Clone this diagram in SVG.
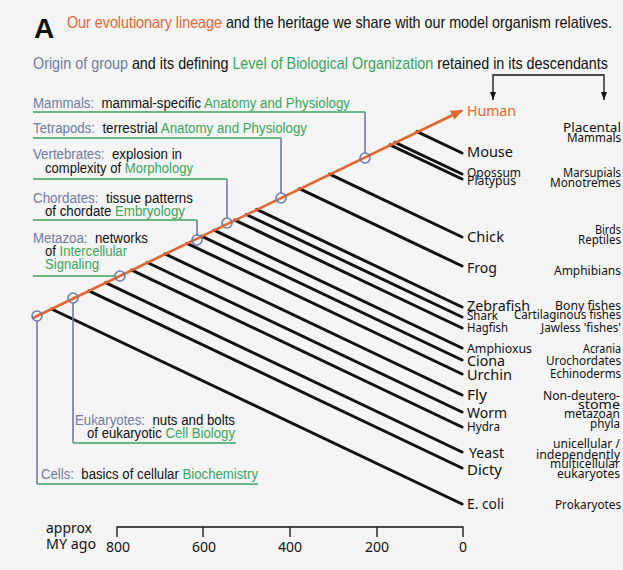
<svg xmlns="http://www.w3.org/2000/svg" width="623" height="570" viewBox="0 0 623 570">
<defs>
<style>
.bg{fill:#f4f4f4}
.hd{font-family:"Liberation Sans",Arial,sans-serif;font-size:16.5px;fill:#111}
.lb{font-family:"Liberation Sans",Arial,sans-serif;font-size:15.5px;fill:#111}
.sp{font-family:"Noto Sans","Open Sans",sans-serif;font-size:15px;fill:#111}
.sm{font-size:12px}
.md{font-size:13px}
.rc{font-family:"Noto Sans","Open Sans",sans-serif;font-size:12px;fill:#111;text-anchor:end}
.ax{font-family:"Noto Sans","Open Sans",sans-serif;font-size:14px;fill:#111}
.axn{text-anchor:middle}
.grp{fill:#6e7ba5}
.lev{fill:#3aa55e}
.org{fill:#e5652e}
.br{stroke:#111;stroke-width:3;stroke-linecap:round}
.gv{stroke:#6e7ba5;stroke-width:1.6;fill:none}
.gh{stroke:#3aa55e;stroke-width:1.6;fill:none}
.cir{stroke:#6e7ba5;stroke-width:1.6;fill:none}
.thin{stroke:#111;stroke-width:1.3;fill:none}
</style>
<marker id="oa" viewBox="0 0 12 10" refX="11" refY="5" markerWidth="12" markerHeight="10" markerUnits="userSpaceOnUse" orient="auto">
<path d="M0,0 L12,5 L0,10 z" fill="#e5652e"/>
</marker>
<marker id="ba" viewBox="0 0 6 8" refX="3" refY="8" markerWidth="6" markerHeight="8" markerUnits="userSpaceOnUse" orient="0">
<path d="M0,0 L6,0 L3,8 z" fill="#111"/>
</marker>
</defs>
<rect class="bg" x="0" y="0" width="623" height="570"/>

<g id="header">
<text x="34" y="38" font-family="Liberation Sans,Arial,sans-serif" font-weight="bold" font-size="28" fill="#111">A</text>
<text class="hd" x="67" y="28" textLength="545" lengthAdjust="spacingAndGlyphs"><tspan class="org">Our evolutionary lineage</tspan> and the heritage we share with our model organism relatives.</text>
<text class="hd" x="33" y="69" textLength="575" lengthAdjust="spacingAndGlyphs"><tspan class="grp">Origin of group</tspan> and its defining <tspan class="lev">Level of Biological Organization</tspan> retained in its descendants</text>
<path class="thin" d="M493,100 V75 H604 V100" marker-start="url(#ba)" marker-end="url(#ba)"/>
</g>

<g id="branches">
<line class="br" x1="417" y1="131.6" x2="462" y2="153"/>
<line class="br" x1="395" y1="142.3" x2="462" y2="174"/>
<line class="br" x1="390" y1="144.8" x2="462" y2="179"/>
<line class="br" x1="329.6" y1="174.1" x2="462" y2="237"/>
<line class="br" x1="299.4" y1="188.7" x2="462" y2="266"/>
<line class="br" x1="256.7" y1="209.4" x2="462" y2="307"/>
<line class="br" x1="246.3" y1="214.5" x2="462" y2="317"/>
<line class="br" x1="234.8" y1="220.1" x2="462" y2="328"/>
<line class="br" x1="214" y1="230.2" x2="462" y2="348"/>
<line class="br" x1="201.5" y1="236.2" x2="462" y2="360"/>
<line class="br" x1="186.9" y1="243.3" x2="462" y2="374"/>
<line class="br" x1="165" y1="253.9" x2="462" y2="395"/>
<line class="br" x1="147.3" y1="262.5" x2="462" y2="412"/>
<line class="br" x1="131.7" y1="270.1" x2="462" y2="427"/>
<line class="br" x1="105.6" y1="282.7" x2="462" y2="452"/>
<line class="br" x1="88.9" y1="290.8" x2="462" y2="468"/>
<line class="br" x1="51.5" y1="309" x2="462" y2="504"/>
</g>

<g id="lineage">
<line x1="33" y1="318" x2="462" y2="110.5" stroke="#e5652e" stroke-width="2.6" marker-end="url(#oa)"/>
</g>

<g id="connectors">
<path class="gh" d="M33,112 H365"/><path class="gv" d="M365,112 V153"/>
<path class="gh" d="M33,138 H281"/><path class="gv" d="M281,138 V193"/>
<path class="gh" d="M33,179 H227"/><path class="gv" d="M227,179 V218"/>
<path class="gh" d="M33,220 H197"/><path class="gv" d="M197,220 V235"/>
<path class="gh" d="M33,276 H115"/>
<path class="gv" d="M73,303 V443"/><path class="gh" d="M73,443 H236"/>
<path class="gv" d="M37,321 V484"/><path class="gh" d="M37,484 H258"/>
<circle class="cir" cx="365" cy="158" r="5"/>
<circle class="cir" cx="281" cy="198" r="5"/>
<circle class="cir" cx="227" cy="223" r="5"/>
<circle class="cir" cx="197" cy="240" r="5"/>
<circle class="cir" cx="120" cy="276" r="5"/>
<circle class="cir" cx="73" cy="298" r="5"/>
<circle class="cir" cx="37" cy="316" r="5"/>
</g>

<g id="mammals"><text class="lb" x="33" y="108" textLength="317" lengthAdjust="spacingAndGlyphs" xml:space="preserve"><tspan class="grp">Mammals:</tspan>  mammal-specific <tspan class="lev">Anatomy and Physiology</tspan></text></g>
<g id="tetrapods"><text class="lb" x="33" y="133" textLength="274" lengthAdjust="spacingAndGlyphs" xml:space="preserve"><tspan class="grp">Tetrapods:</tspan>  terrestrial <tspan class="lev">Anatomy and Physiology</tspan></text></g>
<g id="vertebrates">
<text class="lb" x="33" y="159" textLength="149" lengthAdjust="spacingAndGlyphs" xml:space="preserve"><tspan class="grp">Vertebrates:</tspan>  explosion in</text>
<text class="lb" x="45" y="173" textLength="148" lengthAdjust="spacingAndGlyphs">complexity of <tspan class="lev">Morphology</tspan></text>
</g>
<g id="chordates">
<text class="lb" x="33" y="203" textLength="160" lengthAdjust="spacingAndGlyphs" xml:space="preserve"><tspan class="grp">Chordates:</tspan>  tissue patterns</text>
<text class="lb" x="45" y="216" textLength="140" lengthAdjust="spacingAndGlyphs">of chordate <tspan class="lev">Embryology</tspan></text>
</g>
<g id="metazoa">
<text class="lb" x="33" y="243" textLength="115" lengthAdjust="spacingAndGlyphs" xml:space="preserve"><tspan class="grp">Metazoa:</tspan>  networks</text>
<text class="lb" x="45" y="256" textLength="82" lengthAdjust="spacingAndGlyphs">of <tspan class="lev">Intercellular</tspan></text>
<text class="lb" x="45" y="269" textLength="54" lengthAdjust="spacingAndGlyphs"><tspan class="lev">Signaling</tspan></text>
</g>
<g id="eukaryotes">
<text class="lb" x="75" y="425" textLength="160" lengthAdjust="spacingAndGlyphs" xml:space="preserve"><tspan class="grp">Eukaryotes:</tspan>  nuts and bolts</text>
<text class="lb" x="87" y="438" textLength="148" lengthAdjust="spacingAndGlyphs">of eukaryotic <tspan class="lev">Cell Biology</tspan></text>
</g>
<g id="cells"><text class="lb" x="41" y="479" textLength="217" lengthAdjust="spacingAndGlyphs" xml:space="preserve"><tspan class="grp">Cells:</tspan>  basics of cellular <tspan class="lev">Biochemistry</tspan></text></g>

<g id="species">
<text class="sp" x="467" y="116" textLength="49" lengthAdjust="spacingAndGlyphs"><tspan class="org">Human</tspan></text>
<text class="sp" x="467" y="157" textLength="46" lengthAdjust="spacingAndGlyphs">Mouse</text>
<text class="sp sm" x="467" y="177" textLength="54" lengthAdjust="spacingAndGlyphs">Opossum</text>
<text class="sp sm" x="467" y="185" textLength="49" lengthAdjust="spacingAndGlyphs">Platypus</text>
<text class="sp" x="467" y="242" textLength="37" lengthAdjust="spacingAndGlyphs">Chick</text>
<text class="sp" x="467" y="273" textLength="30" lengthAdjust="spacingAndGlyphs">Frog</text>
<text class="sp" x="467" y="311" textLength="63" lengthAdjust="spacingAndGlyphs">Zebrafish</text>
<text class="sp sm" x="467" y="320" textLength="31" lengthAdjust="spacingAndGlyphs">Shark</text>
<text class="sp sm" x="467" y="332" textLength="41" lengthAdjust="spacingAndGlyphs">Hagfish</text>
<text class="sp md" x="467" y="353" textLength="65" lengthAdjust="spacingAndGlyphs">Amphioxus</text>
<text class="sp" x="467" y="366" textLength="38" lengthAdjust="spacingAndGlyphs">Ciona</text>
<text class="sp" x="467" y="380" textLength="45" lengthAdjust="spacingAndGlyphs">Urchin</text>
<text class="sp" x="467" y="400" textLength="20" lengthAdjust="spacingAndGlyphs">Fly</text>
<text class="sp" x="467" y="418" textLength="40" lengthAdjust="spacingAndGlyphs">Worm</text>
<text class="sp md" x="467" y="431" textLength="33" lengthAdjust="spacingAndGlyphs">Hydra</text>
<text class="sp" x="469" y="458" textLength="35" lengthAdjust="spacingAndGlyphs">Yeast</text>
<text class="sp" x="467" y="475" textLength="35" lengthAdjust="spacingAndGlyphs">Dicty</text>
<text class="sp" x="467" y="509" font-size="14" textLength="37" lengthAdjust="spacingAndGlyphs">E. coli</text>
</g>

<g id="groups">
<text class="rc" x="621" y="132" textLength="58" lengthAdjust="spacingAndGlyphs">Placental</text>
<text class="rc" x="621" y="142" textLength="54" lengthAdjust="spacingAndGlyphs">Mammals</text>
<text class="rc" x="621" y="177" textLength="58" lengthAdjust="spacingAndGlyphs">Marsupials</text>
<text class="rc" x="621" y="187" textLength="71" lengthAdjust="spacingAndGlyphs">Monotremes</text>
<text class="rc" x="621" y="234" textLength="26" lengthAdjust="spacingAndGlyphs">Birds</text>
<text class="rc" x="621" y="244" textLength="43" lengthAdjust="spacingAndGlyphs">Reptiles</text>
<text class="rc" x="621" y="275" textLength="67" lengthAdjust="spacingAndGlyphs">Amphibians</text>
<text class="rc" x="621" y="310" textLength="66" lengthAdjust="spacingAndGlyphs">Bony fishes</text>
<text class="rc" x="621" y="319" textLength="107" lengthAdjust="spacingAndGlyphs">Cartilaginous fishes</text>
<text class="rc" x="621" y="332" textLength="80" lengthAdjust="spacingAndGlyphs">Jawless 'fishes'</text>
<text class="rc" x="621" y="353" textLength="38" lengthAdjust="spacingAndGlyphs">Acrania</text>
<text class="rc" x="621" y="365" textLength="75" lengthAdjust="spacingAndGlyphs">Urochordates</text>
<text class="rc" x="621" y="378" textLength="71" lengthAdjust="spacingAndGlyphs">Echinoderms</text>
<text class="rc" x="620" y="400" textLength="77" lengthAdjust="spacingAndGlyphs">Non-deutero-</text>
<text class="rc" x="620" y="409" textLength="42" lengthAdjust="spacingAndGlyphs">stome</text>
<text class="rc" x="620" y="418" textLength="56" lengthAdjust="spacingAndGlyphs">metazoan</text>
<text class="rc" x="620" y="428" textLength="30" lengthAdjust="spacingAndGlyphs">phyla</text>
<text class="rc" x="620" y="448" textLength="67" lengthAdjust="spacingAndGlyphs">unicellular /</text>
<text class="rc" x="620" y="459" textLength="84" lengthAdjust="spacingAndGlyphs">independently</text>
<text class="rc" x="620" y="468" textLength="70" lengthAdjust="spacingAndGlyphs">multicellular</text>
<text class="rc" x="620" y="478" textLength="63" lengthAdjust="spacingAndGlyphs">eukaryotes</text>
<text class="rc" x="621" y="509" textLength="66" lengthAdjust="spacingAndGlyphs">Prokaryotes</text>
</g>

<g id="axis">
<path class="thin" d="M117,537 V527 H463 V537 M203,527 V537 M290,527 V537 M377,527 V537"/>
<text class="ax" x="46" y="533" textLength="46" lengthAdjust="spacingAndGlyphs">approx</text>
<text class="ax" x="46" y="549" textLength="50" lengthAdjust="spacingAndGlyphs">MY ago</text>
<text class="ax axn" x="118" y="552">800</text>
<text class="ax axn" x="204" y="552">600</text>
<text class="ax axn" x="290" y="552">400</text>
<text class="ax axn" x="377" y="552">200</text>
<text class="ax axn" x="463" y="552">0</text>
</g>
</svg>
